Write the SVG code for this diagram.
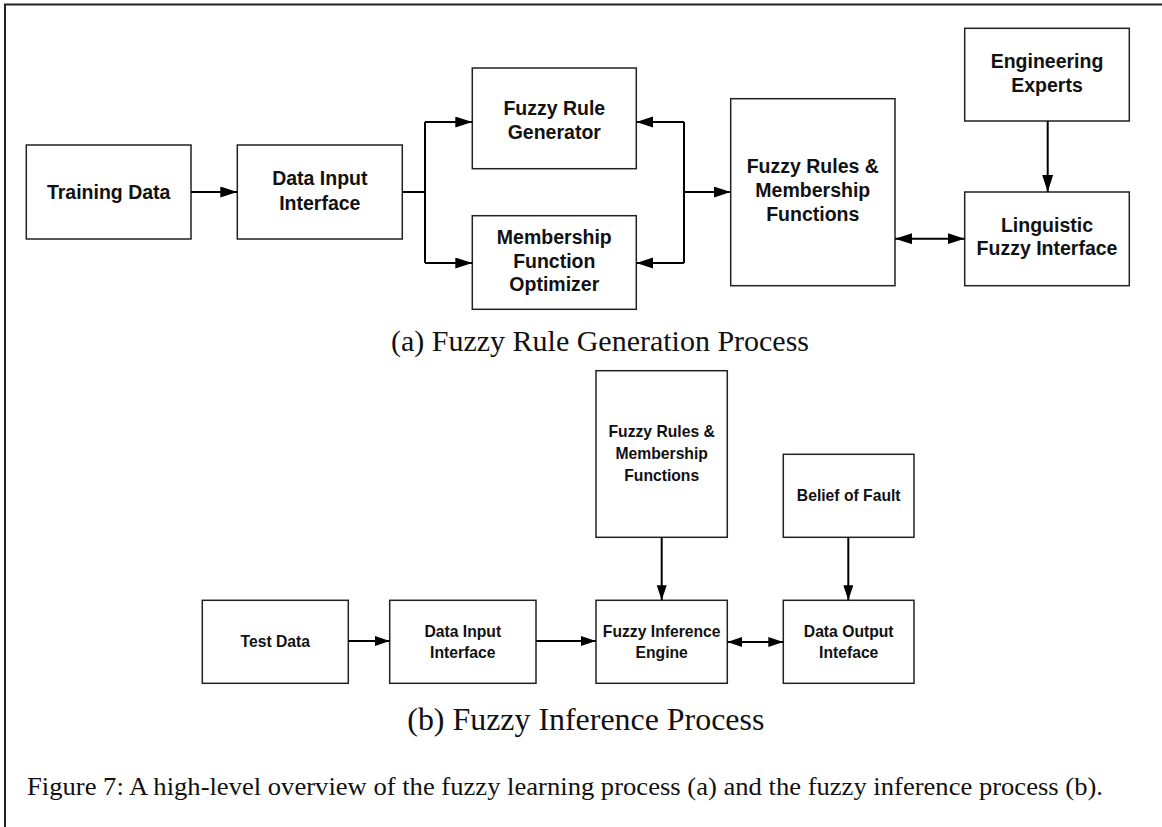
<svg xmlns="http://www.w3.org/2000/svg" width="1162" height="827" viewBox="0 0 1162 827">
  <style>
    .box { fill: #ffffff; stroke: #222222; stroke-width: 1.5; }
    .lbl { font-family: "Liberation Sans", Arial, sans-serif; font-weight: bold; fill: #111111; text-anchor: middle; }
    .lblA { font-size: 19.5px; }
    .lblB { font-size: 15.7px; }
    .conn { fill: none; stroke: #000000; stroke-width: 2; }
    .cap { font-family: "Liberation Serif", "Times New Roman", serif; fill: #111111; }
  </style>
  <defs>
    <marker id="arrA" markerUnits="userSpaceOnUse" markerWidth="18" markerHeight="12" refX="17" refY="5.5" orient="auto-start-reverse">
      <path d="M0,0 L17,5.5 L0,11 Z" fill="#000000"/>
    </marker>
    <marker id="arrB" markerUnits="userSpaceOnUse" markerWidth="16" markerHeight="11" refX="15" refY="5" orient="auto-start-reverse">
      <path d="M0,0 L15,5 L0,10 Z" fill="#000000"/>
    </marker>
  </defs>

  <rect x="0" y="0" width="1162" height="827" fill="#ffffff"/>
  <!-- outer frame -->
  <path d="M5,827 V4.5 H1162" fill="none" stroke="#222222" stroke-width="2"/>

  <!-- (a) fuzzy rule generation -->
  <g id="training-data">
    <rect class="box" x="26.3" y="145" width="164.7" height="94"/>
    <text class="lbl lblA" x="108.7" y="198.5">Training Data</text>
  </g>
  <g id="data-input-a">
    <rect class="box" x="237.3" y="145" width="165" height="94"/>
    <text class="lbl lblA" x="319.8" y="185">Data Input</text>
    <text class="lbl lblA" x="319.8" y="209.5">Interface</text>
  </g>
  <g id="rule-generator">
    <rect class="box" x="472.3" y="68" width="164" height="100.7"/>
    <text class="lbl lblA" x="554.3" y="115">Fuzzy Rule</text>
    <text class="lbl lblA" x="554.3" y="139">Generator</text>
  </g>
  <g id="mf-optimizer">
    <rect class="box" x="472.3" y="215.7" width="164" height="93.6"/>
    <text class="lbl lblA" x="554.3" y="244.3">Membership</text>
    <text class="lbl lblA" x="554.3" y="267.7">Function</text>
    <text class="lbl lblA" x="554.3" y="291">Optimizer</text>
  </g>
  <g id="rules-mf-a">
    <rect class="box" x="730.7" y="98.7" width="164.3" height="187"/>
    <text class="lbl lblA" x="812.8" y="173.3">Fuzzy Rules &amp;</text>
    <text class="lbl lblA" x="812.8" y="196.8">Membership</text>
    <text class="lbl lblA" x="812.8" y="220.5">Functions</text>
  </g>
  <g id="engineering-experts">
    <rect class="box" x="964.7" y="28.3" width="164.6" height="92.7"/>
    <text class="lbl lblA" x="1047" y="68.3">Engineering</text>
    <text class="lbl lblA" x="1047" y="91.7">Experts</text>
  </g>
  <g id="linguistic-interface">
    <rect class="box" x="964.7" y="192" width="164.6" height="93.7"/>
    <text class="lbl lblA" x="1047" y="231.7">Linguistic</text>
    <text class="lbl lblA" x="1047" y="255">Fuzzy Interface</text>
  </g>

  <!-- (b) fuzzy inference -->
  <g id="test-data">
    <rect class="box" x="202.3" y="600.3" width="146" height="83"/>
    <text class="lbl lblB" x="275.3" y="646.7">Test Data</text>
  </g>
  <g id="data-input-b">
    <rect class="box" x="389.7" y="600.3" width="146.3" height="83"/>
    <text class="lbl lblB" x="462.8" y="636.7">Data Input</text>
    <text class="lbl lblB" x="462.8" y="657.5">Interface</text>
  </g>
  <g id="inference-engine">
    <rect class="box" x="596" y="600.3" width="131.3" height="83"/>
    <text class="lbl lblB" x="661.7" y="636.7">Fuzzy Inference</text>
    <text class="lbl lblB" x="661.7" y="657.7">Engine</text>
  </g>
  <g id="data-output">
    <rect class="box" x="783.3" y="600.3" width="130.7" height="83"/>
    <text class="lbl lblB" x="848.7" y="636.7">Data Output</text>
    <text class="lbl lblB" x="848.7" y="657.7">Inteface</text>
  </g>
  <g id="rules-mf-b">
    <rect class="box" x="596" y="370.7" width="131.3" height="166.6"/>
    <text class="lbl lblB" x="661.7" y="437.3">Fuzzy Rules &amp;</text>
    <text class="lbl lblB" x="661.7" y="459">Membership</text>
    <text class="lbl lblB" x="661.7" y="480.7">Functions</text>
  </g>
  <g id="belief-of-fault">
    <rect class="box" x="783.3" y="454.3" width="130.7" height="83"/>
    <text class="lbl lblB" x="848.7" y="500.7">Belief of Fault</text>
  </g>

  <!-- connectors -->
  <g id="connectors">
    <path class="conn" d="M191,192 H237.3" marker-end="url(#arrA)"/>
    <path class="conn" d="M402.3,192 H425"/>
    <path class="conn" d="M425,122 V263"/>
    <path class="conn" d="M425,122 H472.3" marker-end="url(#arrA)"/>
    <path class="conn" d="M425,263 H472.3" marker-end="url(#arrA)"/>
    <path class="conn" d="M684,122 V263"/>
    <path class="conn" d="M684,122 H636.3" marker-end="url(#arrA)"/>
    <path class="conn" d="M684,263 H636.3" marker-end="url(#arrA)"/>
    <path class="conn" d="M684,192 H730.7" marker-end="url(#arrA)"/>
    <path class="conn" d="M895,238.7 H964.7" marker-start="url(#arrA)" marker-end="url(#arrA)"/>
    <path class="conn" d="M1047.7,121 V192" marker-end="url(#arrA)"/>

    <path class="conn" d="M348.3,641 H389.7" marker-end="url(#arrB)"/>
    <path class="conn" d="M536,641 H596" marker-end="url(#arrB)"/>
    <path class="conn" d="M727.3,642 H783.3" marker-start="url(#arrB)" marker-end="url(#arrB)"/>
    <path class="conn" d="M661.7,537.3 V600.3" marker-end="url(#arrB)"/>
    <path class="conn" d="M848.3,537.3 V600.3" marker-end="url(#arrB)"/>
  </g>

  <!-- captions -->
  <text class="cap" x="391" y="351" font-size="30" textLength="418" lengthAdjust="spacingAndGlyphs">(a) Fuzzy Rule Generation Process</text>
  <text class="cap" x="407.3" y="729.5" font-size="31" textLength="357" lengthAdjust="spacingAndGlyphs">(b) Fuzzy Inference Process</text>
  <text class="cap" x="27" y="795" font-size="25" textLength="1076" lengthAdjust="spacingAndGlyphs">Figure 7: A high-level overview of the fuzzy learning process (a) and the fuzzy inference process (b).</text>
</svg>
